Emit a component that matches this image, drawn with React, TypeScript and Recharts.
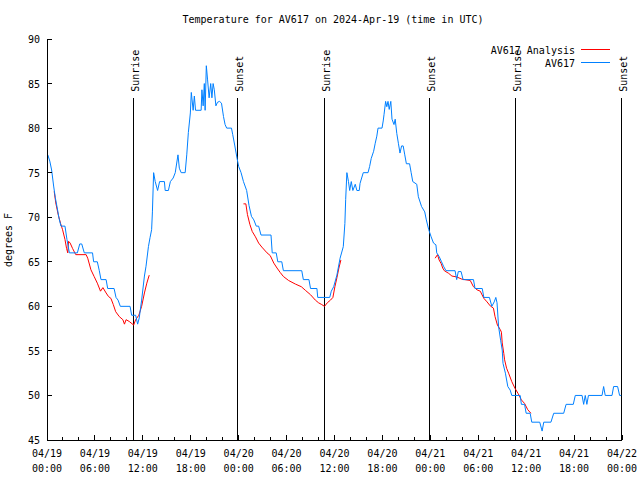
import React from "react";
import {
  LineChart,
  Line,
  XAxis,
  YAxis,
  ReferenceLine,
} from "recharts";

// hours since 04/19 00:00 UTC, temperature in F
const obsHours = [
  0.1, 0.35, 0.58, 0.83, 1.04, 1.33, 1.5, 1.75, 2.25, 2.5, 2.8, 3.8, 4.1, 4.35, 4.67, 5.7, 5.84, 6.3,
  6.55, 6.76, 7.4, 7.6, 8.4, 8.64, 8.9, 9.18, 10.4, 10.6, 11.1, 11.35, 11.55, 11.85, 12.2, 12.4, 12.7,
  12.9, 13.1, 13.2, 13.3, 13.35, 13.55, 13.85, 14.1, 14.7, 14.8, 15.2, 15.45, 15.8, 16.06, 16.4, 16.57,
  16.8, 17.3, 17.5, 17.7, 17.95, 18.07, 18.3, 18.45, 18.6, 19.3, 19.4, 19.55, 19.7, 19.8, 19.95, 20.1,
  20.3, 20.5, 20.65, 20.8, 20.95, 21.15, 21.35, 21.6, 21.85, 22.1, 22.3, 22.5, 23.1, 23.25, 23.5, 23.8,
  24.0, 24.3, 24.6, 25.0, 25.3, 25.6, 25.9, 26.2, 26.5, 26.8, 28.05, 28.2, 28.7, 28.9, 29.4, 29.6, 31.9,
  32.1, 32.8, 33.0, 33.8, 33.9, 35.4, 35.6, 35.9, 36.3, 36.7, 37.1, 37.3, 37.4, 37.55, 37.75, 37.9, 38.1,
  38.3, 38.6, 38.8, 39.1, 39.2, 39.4, 39.6, 40.2, 40.4, 40.6, 40.9, 41.1, 41.3, 41.45, 41.95, 42.1, 42.2,
  42.4, 42.55, 42.7, 42.85, 43.05, 43.2, 43.45, 43.6, 43.8, 44.0, 44.2, 44.4, 44.6, 44.8, 45.0, 45.4,
  45.6, 45.8, 46.3, 46.5, 46.9, 47.3, 47.5, 47.8, 48.1, 48.4, 48.7, 48.8, 49.1, 49.4, 49.65, 49.96, 51.1,
  51.3, 51.5, 51.85, 52.1, 53.4, 53.6, 54.5, 54.7, 55.4, 55.7, 56.0, 56.2, 56.35, 56.55, 56.8, 57.0,
  57.1, 57.4, 57.7, 58.0, 58.2, 59.25, 59.4, 59.8, 60.0, 60.5, 60.7, 61.7, 62.0, 62.2, 63.1, 63.45, 64.7,
  65.0, 65.9, 66.15, 67.0, 67.2, 67.4, 67.6, 67.8, 69.5, 69.7, 69.9, 70.75, 70.95, 71.45, 71.7, 71.9,
];
const obsTemps = [
  77, 76.3, 75.3, 73.5, 72.2, 70.8, 69.9, 69, 69, 67.5, 66, 66, 67, 67, 66, 66, 65, 65,
  64, 63, 63, 62, 62, 61, 60.7, 60, 60, 59, 59, 58, 58.7, 60.7, 63.4, 64.5, 66.7,
  67.7, 68.6, 70.6, 73.5, 75, 74, 73, 74, 74, 73, 73, 74, 74.4, 75, 77, 75.5,
  75, 75, 77, 79.5, 81.7, 84, 82, 83.6, 82, 82, 84.3, 82.5, 85, 82, 87, 85.5,
  83.4, 85, 83.4, 85, 84.3, 82.5, 82.9, 83, 82.8, 81.3, 80.4, 80, 80, 79.3, 78.1, 76.6,
  75.7, 75, 74, 73, 71.3, 70.1, 69.7, 69, 69, 68, 68, 66, 66, 65, 65, 64, 64,
  63, 63, 62, 62, 61, 61, 61.7, 62.2, 63.5, 65.4, 66.7, 69.3, 72, 75, 74, 73, 74,
  73, 73.7, 73, 73, 73.8, 74.4, 75, 75, 75.7, 76.6, 77.4, 78.3, 79.1, 80, 80, 80.8, 81.5,
  83, 82.4, 83, 82.1, 83, 81, 80.4, 81, 79.4, 78.3, 77.2, 78, 78, 77, 76, 76,
  75, 74, 73.7, 72.3, 71.2, 70.6, 69.7, 68.6, 67.8, 67.1, 66.9, 66, 65.6, 65, 64.5, 64, 64,
  63, 63.9, 63.9, 63, 63, 62, 62, 61, 61, 60, 60.5, 61, 60.4, 57.7, 56.2, 55.1,
  53.6, 52.5, 51, 50.6, 50, 50, 49, 49, 48, 48, 47, 47, 46, 47, 47, 48, 48,
  49, 49, 50, 50, 49, 50, 49, 50, 50, 51, 50, 50, 51, 51, 50, 50,
];

// analysis comes in three separate runs
const anaHours1 = [
  0.9, 1.1, 1.4, 1.7, 1.95, 2.25, 2.45, 2.6, 2.7, 2.9, 3.2, 3.6, 4.9, 5.1, 5.5, 5.9, 6.3, 6.7, 7.0,
  7.4, 7.7, 8.0, 8.3, 8.6, 9.05, 9.5, 9.7, 9.9, 10.3, 10.85, 11.1, 11.5, 11.85, 12.2, 12.5, 12.8,
];
const anaTemps1 = [
  72.9, 71.6, 70.3, 69.3, 68.6, 67.5, 66.5, 66, 67.3, 67.1, 66.5, 65.8, 65.8, 65.4, 64.1, 63.35, 62.6,
  61.7, 62.1, 61.5, 61.1, 60.9, 60.2, 59.4, 58.85, 58.5, 58, 58.5, 58.3, 57.9, 58.5, 59, 60, 61.5,
  62.6, 63.5,
];
const anaHours2 = [
  24.6, 24.9, 25.1, 25.4, 25.7, 26.1, 26.5, 26.9, 27.55, 27.95, 28.4, 28.8, 29.2, 29.6, 30.25, 31.1,
  31.85, 32.35, 33.0, 33.6, 34.0, 34.4, 34.75, 35.1, 35.5, 35.8, 36.05, 36.3, 36.55, 36.8,
];
const anaTemps2 = [
  71.5, 71.5, 70.3, 69.2, 68.4, 67.8, 67.1, 66.65, 66, 65.7, 64.85, 64.3, 63.8, 63.35, 62.9, 62.5,
  62.2, 61.8, 61.3, 60.7, 60.4, 60.2, 60, 60.4, 60.7, 61, 62.2, 63.2, 64.3, 65.2,
];
const anaHours3 = [
  48.6, 48.9, 49.1, 49.35, 49.55, 49.75, 50.3, 50.7, 51.3, 51.95, 53.0, 53.4, 53.85, 54.25, 54.7,
  55.1, 55.5, 55.9, 56.1, 56.4, 56.75, 56.9, 57.0, 57.2, 57.3, 57.55, 57.8, 58.2, 58.6, 59.0, 59.4,
  59.8, 60.2, 60.6,
];
const anaTemps3 = [
  65.4, 65.8, 65.2, 64.8, 64.3, 64, 63.7, 63.4, 63.3, 63.05, 62.9, 62.2, 61.85, 61.7, 60.9, 60.5,
  60.05, 59.8, 58.85, 57.9, 57.4, 57.1, 55.9, 54.7, 54, 53.05, 52.5, 51.55, 50.8, 50.2, 49.5, 49.1,
  48.4, 48,
];

const sunHours = [10.85, 23.87, 34.76, 47.9, 58.7, 71.95];
const sunNames = ["Sunrise", "Sunset", "Sunrise", "Sunset", "Sunrise", "Sunset"];

const xTicks = Array.from({ length: 37 }, (_, i) => i * 2);
const yTicks = [45, 50, 55, 60, 65, 70, 75, 80, 85, 90];

const FONT = "'DejaVu Sans Mono', monospace";
const RED = "#ff0000";
const BLUE = "#0080ff";
const SUN_TOP = 83.4;

const zip = (hs: number[], ts: number[]) => hs.map((h, i) => ({ h, t: ts[i] }));
const obs = zip(obsHours, obsTemps);
const ana1 = zip(anaHours1, anaTemps1);
const ana2 = zip(anaHours2, anaTemps2);
const ana3 = zip(anaHours3, anaTemps3);

const fmtDay = (h: number) => `04/${19 + Math.floor(h / 24)}`;
const fmtTime = (h: number) => `${String(h % 24).padStart(2, "0")}:00`;

const BottomTick = (props: any) => {
  const { x, y, payload } = props;
  const major = payload.value % 6 === 0;
  return (
    <g>
      <line x1={x} x2={x} y1={y} y2={y - (major ? 5 : 3)} stroke="#000" shapeRendering="crispEdges" />
      {major && (
        <text x={x} textAnchor="middle" fontFamily={FONT} fontSize={10} fill="#000">
          <tspan x={x} y={y + 17}>{fmtDay(payload.value)}</tspan>
          <tspan x={x} y={y + 32}>{fmtTime(payload.value)}</tspan>
        </text>
      )}
    </g>
  );
};

const TopTick = (props: any) => {
  const { x, y, payload } = props;
  const major = payload.value % 6 === 0;
  return <line x1={x} x2={x} y1={y} y2={y + (major ? 5 : 3)} stroke="#000" shapeRendering="crispEdges" />;
};

const LeftTick = (props: any) => {
  const { x, y, payload } = props;
  return (
    <g>
      <line x1={x} x2={x + 5} y1={y} y2={y} stroke="#000" shapeRendering="crispEdges" />
      <text x={x - 7} y={y + 4} textAnchor="end" fontFamily={FONT} fontSize={10} fill="#000">
        {payload.value}
      </text>
    </g>
  );
};

const RightTick = (props: any) => {
  const { x, y } = props;
  return <line x1={x} x2={x - 5} y1={y} y2={y} stroke="#000" shapeRendering="crispEdges" />;
};

const SunLabel = (props: any) => {
  const { viewBox, text } = props;
  const tx = viewBox.x + 5.5;
  const ty = viewBox.y - 6;
  return (
    <text
      x={tx}
      y={ty}
      transform={`rotate(-90 ${tx} ${ty})`}
      fontFamily={FONT}
      fontSize={10}
      fill="#000"
    >
      {text}
    </text>
  );
};

const legendItems = [
  { name: "AV617 Analysis", color: RED },
  { name: "AV617", color: BLUE },
];

const axisLineStyle = { stroke: "#000", shapeRendering: "crispEdges" };

export default function App() {
  return (
    <div style={{ position: "absolute", left: 0, top: 0, width: 640, height: 480, background: "#fff" }}>
      <LineChart width={640} height={480} margin={{ top: 39, right: 18, bottom: 0, left: 0 }}>
        <XAxis
          dataKey="h"
          type="number"
          domain={[0, 72]}
          ticks={xTicks}
          interval={0}
          height={40}
          tickSize={0}
          tickMargin={0}
          tickLine={false}
          axisLine={axisLineStyle}
          tick={(p: any) => <BottomTick {...p} />}
        />
        <XAxis
          xAxisId="top"
          orientation="top"
          dataKey="h"
          type="number"
          domain={[0, 72]}
          ticks={xTicks}
          interval={0}
          height={0}
          tickSize={0}
          tickMargin={0}
          tickLine={false}
          axisLine={axisLineStyle}
          tick={(p: any) => <TopTick {...p} />}
        />
        <YAxis
          type="number"
          domain={[45, 90]}
          ticks={yTicks}
          interval={0}
          width={47}
          tickSize={0}
          tickMargin={0}
          tickLine={false}
          axisLine={axisLineStyle}
          tick={(p: any) => <LeftTick {...p} />}
        />
        <YAxis
          yAxisId="right"
          orientation="right"
          type="number"
          domain={[45, 90]}
          ticks={yTicks}
          interval={0}
          width={0}
          tickSize={0}
          tickMargin={0}
          tickLine={false}
          axisLine={axisLineStyle}
          tick={(p: any) => <RightTick {...p} />}
        />
        {sunHours.map((h, i) => (
          <ReferenceLine
            key={i}
            segment={[
              { x: h, y: SUN_TOP },
              { x: h, y: 45 },
            ]}
            stroke="#000"
            strokeWidth={1}
            shapeRendering="crispEdges"
            label={<SunLabel text={sunNames[i]} />}
          />
        ))}
        <Line data={ana1} dataKey="t" stroke={RED} strokeWidth={1} dot={false} isAnimationActive={false} />
        <Line data={ana2} dataKey="t" stroke={RED} strokeWidth={1} dot={false} isAnimationActive={false} />
        <Line data={ana3} dataKey="t" stroke={RED} strokeWidth={1} dot={false} isAnimationActive={false} />
        <Line data={obs} dataKey="t" stroke={BLUE} strokeWidth={1} dot={false} isAnimationActive={false} />
      </LineChart>
      <svg
        width={640}
        height={480}
        style={{ position: "absolute", left: 0, top: 0, pointerEvents: "none" }}
        fontFamily={FONT}
        fontSize={10}
      >
        <text x={333} y={23} textAnchor="middle" fill="#000">
          Temperature for AV617 on 2024-Apr-19 (time in UTC)
        </text>
        <text x={12} y={240} textAnchor="middle" transform="rotate(-90 12 240)" fill="#000">
          degrees F
        </text>
        {legendItems.map((it, i) => (
          <g key={it.name}>
            <text x={575} y={53.5 + i * 13} textAnchor="end" fill="#000">
              {it.name}
            </text>
            <line
              x1={581}
              x2={610}
              y1={49.5 + i * 13}
              y2={49.5 + i * 13}
              stroke={it.color}
              shapeRendering="crispEdges"
            />
          </g>
        ))}
      </svg>
    </div>
  );
}
